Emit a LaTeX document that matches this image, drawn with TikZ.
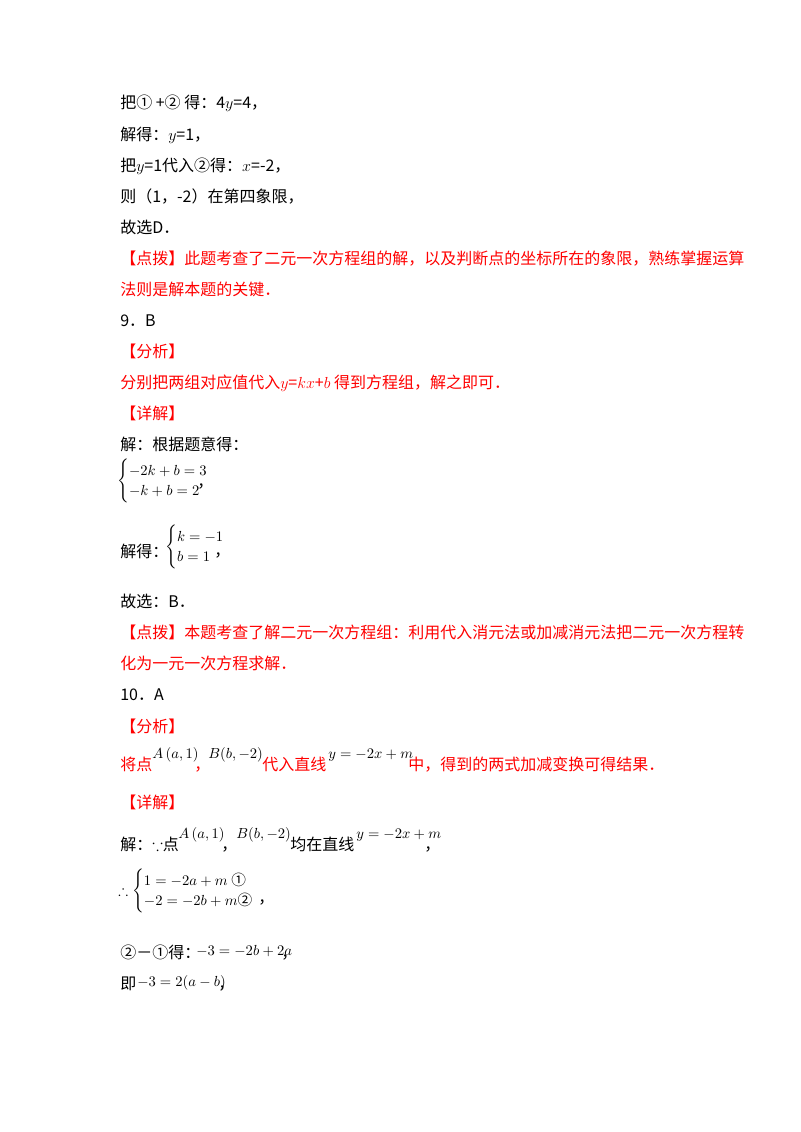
\documentclass[tikz,border=0pt]{standalone}
\usepackage{amsmath,amssymb}
\usepackage{fontspec}
\setmainfont{Liberation Serif}
\newfontfamily\cjk{Noto Sans CJK SC}
\begin{document}
\begin{tikzpicture}[x=0.75pt,y=-0.75pt,
  t/.style={anchor=base west,inner sep=0pt,font=\cjk\fontsize{12}{14}\selectfont},
  r/.style={t,text=red},
  m/.style={anchor=base west,inner sep=0pt,font=\fontsize{11}{13}\selectfont}]
\fill[white] (0,0) rectangle (800,1132);
\node[t] (l1) at (120,108) {把①\ +②\ 得：4$y$=4，};
\node[t] (l2) at (120,140) {解得：$y$=1，};
\node[t] (l3) at (120,171) {把$y$=1代入②得：$x$=-2，};
\node[t] (l4) at (120,202) {则（1，-2）在第四象限，};
\node[t] (l5) at (120,233) {故选D．};
\node[r] (l6) at (120,264) {【点拨】此题考查了二元一次方程组的解，以及判断点的坐标所在的象限，熟练掌握运算};
\node[r] (l7) at (120,295) {法则是解本题的关键．};
\node[t] (l8) at (120,326) {9．B};
\node[r] (l9) at (120,357) {【分析】};
\node[r] (l10) at (120,388) {分别把两组对应值代入$y$=$kx$+$b$ 得到方程组，解之即可．};
\node[r] (l11) at (120,419) {【详解】};
\node[t] (l12) at (120,450) {解：根据题意得：};
\node[m] (s1) at (117,485) {$\begin{cases}-2k+b=3\\ -k+b=2\end{cases}$};
\node[t] (c0) at (197,487) {，};
\node[t] (l13) at (120,557) {解得：};
\node[m] (s2) at (165,551) {$\begin{cases}k=-1\\ b=1\end{cases}$};
\node[t] (c6) at (214,556) {，};
\node[t] (l14) at (120,607) {故选：B．};
\node[r] (l15) at (120,638) {【点拨】本题考查了解二元一次方程组：利用代入消元法或加减消元法把二元一次方程转};
\node[r] (l16) at (120,669) {化为一元一次方程求解．};
\node[t] (l17) at (120,700) {10．A};
\node[r] (l18) at (120,732) {【分析】};
\node[r] (l19) at (120,770) {将点};
\node[m] (f1) at (152,758) {$A\left(a,1\right)$};
\node[r] (c1) at (194,770) {，};
\node[m] (f2) at (208,758) {$B(b,-2)$};
\node[r] (l19b) at (262,770) {代入直线};
\node[m] (f3) at (328,758) {$y=-2x+m$};
\node[r] (l19c) at (408,770) {中，得到的两式加减变换可得结果．};
\node[r] (l20) at (120,808) {【详解】};
\node[t] (l21) at (120,850) {解：$\because$点};
\node[m] (g1) at (178,838) {$A\left(a,1\right)$};
\node[t] (c2) at (221,850) {，};
\node[m] (g2) at (236,838) {$B(b,-2)$};
\node[t] (l21b) at (290,850) {均在直线};
\node[m] (g3) at (356,838) {$y=-2x+m$};
\node[t] (c3) at (424,850) {，};
\node[m] (s3) at (118,895) {$\therefore\begin{cases}1=-2a+m\ \text{\cjk ①}\\ -2=-2b+m\text{\cjk ②}\end{cases}$};
\node[t] (c7) at (258,903) {，};
\node[t] (l22) at (120,958) {②－①得：};
\node[m] (h1) at (196,955) {$-3=-2b+2a$};
\node[t] (c4) at (281,958) {，};
\node[t] (l23) at (120,989) {即};
\node[m] (h2) at (137,986) {$-3=2(a-b)$};
\node[t] (c5) at (218,989) {，};
\end{tikzpicture}
\end{document}
